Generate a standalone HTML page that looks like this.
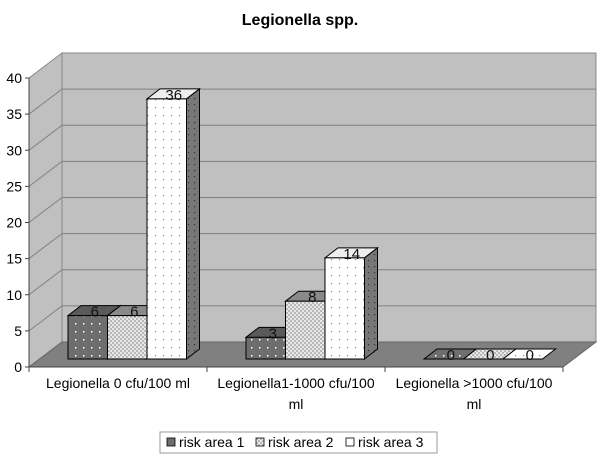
<!DOCTYPE html>
<html><head><meta charset="utf-8"><style>
body{margin:0;background:#fff;width:600px;height:462px;overflow:hidden}
svg{display:block;font-family:"Liberation Sans",Arial,sans-serif}
</style></head><body>
<svg id="c" width="600" height="462" viewBox="0 0 600 462">
<defs>
<pattern id="p1" width="8" height="8" patternUnits="userSpaceOnUse"><rect width="8" height="8" fill="#6e6e6e"/><rect x="3" y="3" width="1.5" height="1.5" fill="#fff"/></pattern>
<pattern id="p2" width="4" height="4" patternUnits="userSpaceOnUse"><rect width="4" height="4" fill="#b8b8b8"/><rect x="0" y="0" width="2" height="2" fill="#e8e8e8"/><rect x="2" y="2" width="2" height="2" fill="#e8e8e8"/></pattern>
<pattern id="p3" width="8" height="8" patternUnits="userSpaceOnUse"><rect width="8" height="8" fill="#fff"/><rect x="3" y="3" width="1.2" height="1.2" fill="#888"/></pattern>
<pattern id="p3s" width="6" height="6" patternUnits="userSpaceOnUse"><rect width="6" height="6" fill="#777"/><rect x="2" y="2" width="1.2" height="1.2" fill="#333"/></pattern>
</defs>
<text x="300" y="25" text-anchor="middle" font-size="16" font-weight="bold">Legionella spp.</text>
<g id="plot"></g>
<g>
<rect x="160" y="432" width="277" height="21" fill="#fff" stroke="#999"/>
<rect x="167" y="438" width="8" height="8" fill="#6e6e6e" stroke="#000" stroke-width="0.8"/>
<text x="179" y="447" font-size="14">risk area 1</text>
<rect x="256" y="438" width="8" height="8" fill="url(#p2)" stroke="#000" stroke-width="0.8"/>
<text x="268" y="447" font-size="14">risk area 2</text>
<rect x="346" y="438" width="8" height="8" fill="#fff" stroke="#000" stroke-width="0.8"/>
<text x="358" y="447" font-size="14">risk area 3</text>
</g>
</svg>
<script>
const categories=["Legionella 0 cfu/100 ml","Legionella1-1000 cfu/100 ml","Legionella >1000 cfu/100 ml"];
const catLines=[["Legionella 0 cfu/100 ml"],["Legionella1-1000 cfu/100","ml"],["Legionella >1000 cfu/100","ml"]];
const series1=[6,3,0];
const series2=[6,8,0];
const series3=[36,14,0];
const yTicks=[0,5,10,15,20,25,30,35,40];
const NS="http://www.w3.org/2000/svg";
const g=document.getElementById('plot');
function mk(t,a,name){const e=document.createElementNS(NS,t);for(const k in a)e.setAttribute(k,a[k]);


g.appendChild(e);return e;}
const X0=29,Y0=367,K=(367-78)/40,DX=33,DY=-25,XR=563;
function yv(v){return Y0-v*K;}
mk('polygon',{points:`${X0},${yv(0)} ${X0+DX},${yv(0)+DY} ${X0+DX},${yv(40)+DY} ${X0},${yv(40)}`,fill:'#c0c0c0',stroke:'#888'},'side-wall');
mk('rect',{x:X0+DX,y:yv(40)+DY,width:XR-X0,height:40*K,fill:'#c0c0c0',stroke:'#888'},'back-wall');
mk('polygon',{points:`${X0},${Y0} ${XR},${Y0} ${XR+DX},${Y0+DY} ${X0+DX},${Y0+DY}`,fill:'#808080',stroke:'#666'},'floor');
yTicks.forEach(v=>{
 if(v>0&&v<40){mk('polyline',{points:`${X0},${yv(v)} ${X0+DX},${yv(v)+DY} ${XR+DX},${yv(v)+DY}`,fill:'none',stroke:'#808080'},'gridline');}
 mk('line',{x1:X0-4,y1:yv(v),x2:X0,y2:yv(v),stroke:'#444'},'y-tick');
 const t=mk('text',{x:X0-7,y:yv(v)+5,'text-anchor':'end','font-size':14},'y-tick-label');t.textContent=v;
});
mk('line',{x1:X0,y1:yv(0),x2:X0,y2:yv(40),stroke:'#444'},'y-axis');
mk('line',{x1:X0,y1:Y0,x2:XR,y2:Y0,stroke:'#444'},'x-axis');
const CW=(XR-X0)/3;
for(let i=0;i<=3;i++)mk('line',{x1:X0+i*CW,y1:Y0,x2:X0+i*CW,y2:Y0+5,stroke:'#444'},'x-tick');
const fills=[['url(#p1)','#555','#5a5a5a'],['url(#p2)','#999','#8a8a8a'],['url(#p3)','url(#p3s)','#eee']];
const sers=[series1,series2,series3];
const BW=39.5,bd=13,bdy=-10,BY=359;
categories.forEach((c,ci)=>{
 sers.forEach((s,si)=>{
  const v=s[ci];const x=X0+39+ci*CW+si*BW;const top=BY-v*K;const f=fills[si];
  mk('polygon',{points:`${x},${top} ${x+bd},${top+bdy} ${x+BW+bd},${top+bdy} ${x+BW},${top}`,fill:v>0?f[2]:f[0],stroke:'#000'},'bar-top-'+(si+1));
  if(v>0){
   mk('polygon',{points:`${x+BW},${BY} ${x+BW+bd},${BY+bdy} ${x+BW+bd},${top+bdy} ${x+BW},${top}`,fill:f[1],stroke:'#000'},'bar-side-'+(si+1));
   mk('rect',{x:x,y:top,width:BW,height:v*K,fill:f[0],stroke:'#000'},'bar-s'+(si+1)+'-c'+(ci+1));
  }
  const t=mk('text',{x:x+BW/2+7,y:top+1,'text-anchor':'middle','font-size':15,fill:'#111'},'value-label');t.textContent=v;
 });
 catLines[ci].forEach((ln,li)=>{const t=mk('text',{x:X0+CW*(ci+0.5),y:388+li*21,'text-anchor':'middle','font-size':14},'category-label');t.textContent=ln;});
});
</script>
</body></html>
